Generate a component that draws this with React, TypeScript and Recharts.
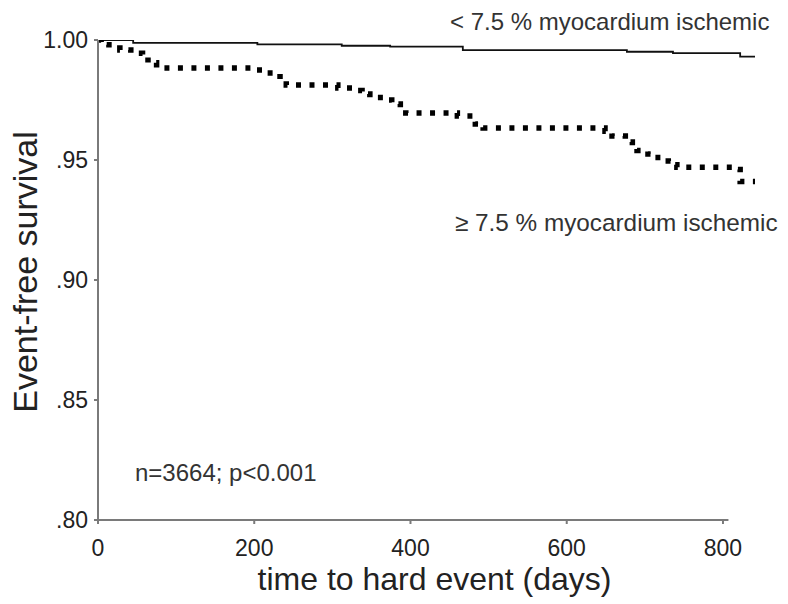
import React from 'react';
import { LineChart, Line, XAxis, YAxis, ReferenceLine, Customized } from 'recharts';

// Low ischemia group (< 7.5 %): step points (days, survival)
const lowDays = [0, 45, 204, 312, 374, 467, 677, 736, 822, 841];
const lowSurv = [1.0, 0.9988, 0.9982, 0.9976, 0.9972, 0.9958, 0.9951, 0.9945, 0.9931, 0.9931];

// High ischemia group (>= 7.5 %)
const highDays = [0, 4, 14, 28, 42, 57, 64, 75, 197, 214, 233, 241, 307, 329, 338, 348, 370, 376, 387, 394, 460, 483, 493, 649, 658, 675, 684, 690, 704, 713, 730, 735, 741, 818, 822, 841];
const highSurv = [1.0, 0.998, 0.9967, 0.9958, 0.9945, 0.993, 0.9905, 0.9883, 0.9875, 0.9863, 0.9833, 0.98125, 0.98, 0.979, 0.9775, 0.976, 0.975, 0.9733, 0.9708, 0.9696, 0.9683, 0.965, 0.9633, 0.962, 0.96, 0.9575, 0.955, 0.954, 0.9525, 0.951, 0.9496, 0.948, 0.947, 0.946, 0.941, 0.941];

const xTicks = [0, 200, 400, 600, 800];
const yTicks = [0.8, 0.85, 0.9, 0.95, 1.0];
const yTickLabels = ['.80', '.85', '.90', '.95', '1.00'];
const xAxisEnd = 807;

const lowLabel = '< 7.5 % myocardium ischemic';
const highLabel = '\u2265 7.5 % myocardium ischemic';
const statsLabel = 'n=3664; p<0.001';
const xTitle = 'time to hard event (days)';
const yTitle = 'Event-free survival';

const lowData = lowDays.map((d, i) => ({ day: d, s: lowSurv[i] }));
const highData = highDays.map((d, i) => ({ day: d, s: highSurv[i] }));

const FONT = '"Liberation Sans", Arial, Helvetica, sans-serif';
const AXIS = '#7a7a7a';
const TEXT = '#222';

const renderYLabel = (props: any) => {
  const vb = props.viewBox || { x: 0, y: 0, width: 0, height: 0 };
  const cx = vb.x + 25;
  const cy = vb.y + vb.height / 2 - 8;
  return (
    <text
      x={cx}
      y={cy}
      transform={`rotate(-90 ${cx} ${cy})`}
      textAnchor="middle"
      dominantBaseline="central"
      fontFamily={FONT}
      fontSize={34}
      fill={TEXT}
    >
      {yTitle}
    </text>
  );
};

const renderXLabel = (props: any) => {
  const vb = props.viewBox || { x: 0, y: 0, width: 0, height: 0 };
  return (
    <text
      x={vb.x + vb.width / 2 + 8}
      y={vb.y + 70}
      textAnchor="middle"
      fontFamily={FONT}
      fontSize={32}
      fill={TEXT}
    >
      {xTitle}
    </text>
  );
};

const Annotations = () => (
  <g fontFamily={FONT} fill="#333">
    <text x={450} y={30} fontSize={24}>{lowLabel}</text>
    <text x={455} y={231} fontSize={24.3}>{highLabel}</text>
    <text x={135} y={481} fontSize={24}>{statsLabel}</text>
  </g>
);

export default function App() {
  return (
    <div style={{ position: 'absolute', left: 0, top: 0, width: 788, height: 604, background: '#fff' }}>
      <LineChart width={788} height={604} margin={{ top: 40, right: 33, left: 0, bottom: 0 }}>
        <XAxis
          dataKey="day"
          type="number"
          domain={[0, 841]}
          ticks={xTicks}
          axisLine={false}
          tickLine={{ stroke: AXIS, strokeWidth: 2 }}
          tickSize={4}
          tickMargin={16}
          height={84}
          tick={{ fontFamily: FONT, fontSize: 23, fill: TEXT }}
          label={renderXLabel}
          allowDataOverflow
        />
        <YAxis
          type="number"
          domain={[0.8, 1.0]}
          ticks={yTicks}
          tickFormatter={(v: number) => yTickLabels[yTicks.indexOf(v)] ?? String(v)}
          width={98}
          axisLine={{ stroke: AXIS, strokeWidth: 2 }}
          tickLine={{ stroke: AXIS, strokeWidth: 2 }}
          tickSize={4}
          tickMargin={6}
          tick={{ fontFamily: FONT, fontSize: 23, fill: TEXT }}
          label={renderYLabel}
          allowDataOverflow
        />
        <ReferenceLine
          segment={[{ x: 0, y: 0.8 }, { x: xAxisEnd, y: 0.8 }]}
          stroke={AXIS}
          strokeWidth={2}
          ifOverflow="visible"
        />
        <Line
          data={lowData}
          dataKey="s"
          type="stepAfter"
          stroke="#111"
          strokeWidth={1.8}
          dot={false}
          activeDot={false}
          isAnimationActive={false}
        />
        <Line
          data={highData}
          dataKey="s"
          type="stepAfter"
          stroke="#000"
          strokeWidth={5.5}
          strokeDasharray="5 8.5"
          dot={false}
          activeDot={false}
          isAnimationActive={false}
        />
        <Customized component={Annotations} />
      </LineChart>
    </div>
  );
}
